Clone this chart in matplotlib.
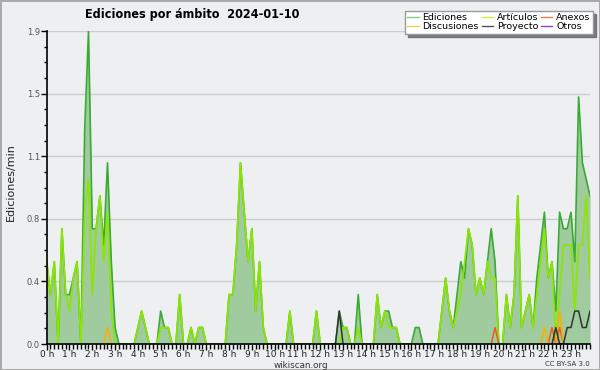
import numpy as np
import matplotlib
matplotlib.use("Agg")
import matplotlib.pyplot as plt
from matplotlib.ticker import FixedLocator, MultipleLocator

# 10-minute bins over the day (0:00 .. 23:50)
ediciones = [
    0.5, 0.3, 0.5, 0, 0.7, 0.3, 0.3, 0.4, 0.5, 0, 1.3, 1.9,
    0.7, 0.7, 0.9, 0.6, 1.1, 0.5, 0.1, 0, 0, 0, 0, 0,
    0.1, 0.2, 0.1, 0, 0, 0, 0.2, 0.1, 0.1, 0, 0, 0.3,
    0, 0, 0.1, 0, 0.1, 0.1, 0, 0, 0, 0, 0, 0,
    0.3, 0.3, 0.6, 1.1, 0.8, 0.5, 0.7, 0.2, 0.5, 0.1, 0, 0,
    0, 0, 0, 0, 0.2, 0, 0, 0, 0, 0, 0, 0.2,
    0, 0, 0, 0, 0, 0.2, 0.1, 0.1, 0, 0, 0.3, 0,
    0, 0, 0, 0.3, 0.1, 0.2, 0.2, 0.1, 0.1, 0, 0, 0,
    0, 0.1, 0.1, 0, 0, 0, 0, 0, 0.2, 0.4, 0.2, 0.1,
    0.3, 0.5, 0.4, 0.7, 0.6, 0.3, 0.4, 0.3, 0.5, 0.7, 0.5, 0,
    0, 0.3, 0.1, 0.3, 0.9, 0.1, 0.2, 0.3, 0.1, 0.4, 0.6, 0.8,
    0.4, 0.5, 0.2, 0.8, 0.7, 0.7, 0.8, 0.5, 1.5, 1.1, 1.0, 0.9,
]
articulos = [
    0.5, 0.3, 0.5, 0, 0.7, 0.3, 0.2, 0.4, 0.5, 0, 0.8, 1.0,
    0.3, 0.7, 0.9, 0.5, 0.8, 0.2, 0, 0, 0, 0, 0, 0,
    0.1, 0.2, 0.1, 0, 0, 0, 0.1, 0.1, 0.1, 0, 0, 0.3,
    0, 0, 0.1, 0, 0.1, 0.1, 0, 0, 0, 0, 0, 0,
    0.3, 0.3, 0.6, 1.1, 0.8, 0.5, 0.7, 0.2, 0.5, 0.1, 0, 0,
    0, 0, 0, 0, 0.2, 0, 0, 0, 0, 0, 0, 0.2,
    0, 0, 0, 0, 0, 0, 0.1, 0.1, 0, 0, 0.1, 0,
    0, 0, 0, 0.3, 0.1, 0.2, 0.1, 0.1, 0.1, 0, 0, 0,
    0, 0, 0, 0, 0, 0, 0, 0, 0.2, 0.4, 0.2, 0.1,
    0.2, 0.3, 0.5, 0.7, 0.6, 0.3, 0.4, 0.3, 0.5, 0.4, 0.4, 0,
    0, 0.3, 0.1, 0.3, 0.9, 0.1, 0.2, 0.3, 0.1, 0.3, 0.5, 0.7,
    0.4, 0.5, 0, 0.3, 0.6, 0.6, 0.6, 0.2, 0.6, 0.6, 0.9, 0.4,
]
anexos_idx = [118, 133, 135]
anexos_val = [0.1, 0.1, 0.1]
discusiones_idx = [16, 131, 135]
discusiones_val = [0.1, 0.1, 0.2]
proyecto_idx = [77, 134, 137, 138, 139, 140, 141, 142, 143]
proyecto_val = [0.2, 0.1, 0.1, 0.1, 0.2, 0.2, 0.1, 0.1, 0.2]
otros_idx = []
otros_val = []

hour_labels = [f"{h} h" for h in range(24)]
ytick_vals = [0, 0.38, 0.76, 1.14, 1.52, 1.9]
ytick_labels = ["0.0", "0.4", "0.8", "1.1", "1.5", "1.9"]

N = len(ediciones)
x = np.arange(N)


def sparse(idx, val):
    arr = np.zeros(N)
    arr[idx] = val
    return arr


def masked(arr):
    arr = np.asarray(arr, dtype=float)
    out = arr.copy()
    for i in range(N):
        lo = arr[i - 1] if i > 0 else 0
        hi = arr[i + 1] if i < N - 1 else 0
        if arr[i] == 0 and lo == 0 and hi == 0:
            out[i] = np.nan
    return out


BG = "#eeeff1"
fig = plt.figure(figsize=(6, 3.7), dpi=100, facecolor=BG,
                 edgecolor="#aaaaaa", linewidth=2)
ax = fig.add_axes([46.7 / 600, 26 / 370, (590 - 46.7) / 600, (344 - 31) / 370])
ax.set_facecolor(BG)

ed = np.array(ediciones)
ax.fill_between(x, ed, 0, color="#9fcb9f", lw=0, zorder=1)
ax.plot(x, ed, color="#3aaa35", lw=1.2, zorder=3)
ax.plot(x, masked(articulos), color="#8ce600", lw=1.2, zorder=4)
ax.plot(x, masked(sparse(anexos_idx, anexos_val)), color="#f05a1e", lw=1.1, zorder=5)
ax.plot(x, masked(sparse(discusiones_idx, discusiones_val)), color="#f6b100", lw=1.1, zorder=5)
ax.plot(x, masked(sparse(proyecto_idx, proyecto_val)), color="#333333", lw=1.1, zorder=5)
if otros_idx:
    ax.plot(x, masked(sparse(otros_idx, otros_val)), color="#9040e0", lw=1.1, zorder=5)

ax.set_xlim(0, N - 1)
ax.set_ylim(0, 1.9)
ax.xaxis.set_major_locator(FixedLocator(np.arange(0, N, 6)))
ax.set_xticklabels(hour_labels)
ax.xaxis.set_minor_locator(MultipleLocator(1))
ax.yaxis.set_major_locator(FixedLocator(ytick_vals))
ax.set_yticklabels(ytick_labels)
ax.yaxis.set_minor_locator(MultipleLocator(1.9 / 20))

ax.tick_params(axis="x", which="major", length=4.5, width=1, labelsize=6.5,
               pad=0, colors="#000000", labelcolor="#222222")
ax.tick_params(axis="x", which="minor", length=3.5, width=1, colors="#000000")
ax.tick_params(axis="y", which="major", length=4, width=1, labelsize=6,
               pad=1, labelcolor="#555555")
ax.tick_params(axis="y", which="minor", length=2.5, width=1)

for s in ["top", "right"]:
    ax.spines[s].set_visible(False)
for s in ["left", "bottom"]:
    ax.spines[s].set_linewidth(1.2)
    ax.spines[s].set_zorder(6)

ax.grid(axis="y", which="major", color="#cccccc", lw=1)
ax.set_axisbelow(True)

fig.text(85 / 600, 1 - 18 / 370, "Ediciones por ámbito  2024-01-10",
         fontsize=9, fontweight="bold", fontstretch="condensed",
         family="DejaVu Sans", ha="left", va="baseline")
fig.text(11 / 600, 188 / 370, "Ediciones/min", rotation=90,
         fontsize=8, ha="center", va="center", color="#222222")
fig.text(301 / 600, 1 - 365 / 370, "wikiscan.org", fontsize=6.3,
         ha="center", va="center", color="#333333")
fig.text(590 / 600, 1 - 364 / 370, "CC BY-SA 3.0", fontsize=5,
         ha="right", va="center", color="#333333")

handles = [
    plt.Line2D([], [], color="#80d080", lw=1),
    plt.Line2D([], [], color="#f8d040", lw=1),
    plt.Line2D([], [], color="#c8f040", lw=1),
    plt.Line2D([], [], color="#555555", lw=1),
    plt.Line2D([], [], color="#f08050", lw=1),
    plt.Line2D([], [], color="#9040e0", lw=1),
]
labels = ["Ediciones", "Discusiones", "Artículos", "Proyecto", "Anexos", "Otros"]
leg = fig.legend(handles, labels, ncol=3, loc="upper right",
                 bbox_to_anchor=(593 / 600, 1 - 11 / 370), fontsize=6.8,
                 frameon=True, fancybox=False, shadow={"color": "#777777", "alpha": 1},
                 handlelength=1.2, handletextpad=0.4, columnspacing=0.3,
                 labelspacing=0.0, borderpad=0.25, borderaxespad=0)
leg.get_frame().set_edgecolor("#999999")
leg.get_frame().set_linewidth(1)

fig.savefig("out.png", dpi=100, facecolor=BG, edgecolor=fig.get_edgecolor())
